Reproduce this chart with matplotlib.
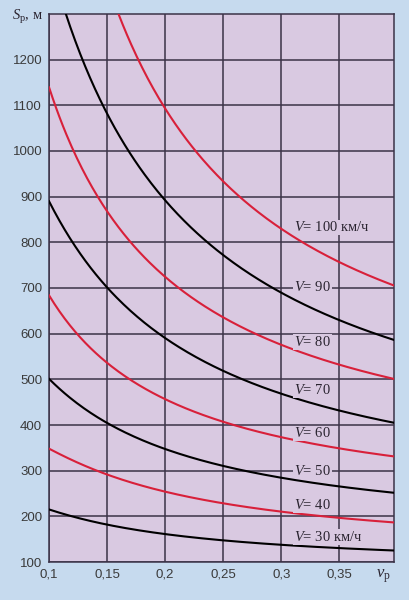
import numpy as np
import matplotlib.pyplot as plt

# coefficient of adhesion (x) and braking distance S, m (y)
nu = [0.1, 0.15, 0.2, 0.25, 0.3, 0.35, 0.397]

s30 = [215, 182, 162, 147, 136, 131, 126]
s40 = [348, 292, 255, 227, 209, 198, 187]
s50 = [500, 408, 350, 301, 284, 268, 254]
s60 = [683, 540, 455, 403, 373, 350, 333]
s70 = [890, 700, 590, 524, 464, 430, 407]
s80 = [1140, 865, 725, 640, 575, 531, 500]
s90_x = [0.114, 0.15, 0.2, 0.25, 0.3, 0.35, 0.397]
s90 = [1300, 1090, 895, 765, 678, 630, 597]
s100_x = [0.16, 0.2, 0.25, 0.3, 0.35, 0.397]
s100 = [1300, 1089, 936, 831, 757, 704]

labels = ['$V$= 30 км/ч', '$V$= 40', '$V$= 50', '$V$= 60', '$V$= 70', '$V$= 80', '$V$= 90', '$V$= 100 км/ч']
label_y = [155, 225, 300, 382, 476, 582, 702, 833]

xticks = [0.1, 0.15, 0.2, 0.25, 0.3, 0.35]
xticklabels = ['0,1', '0,15', '0,2', '0,25', '0,3', '0,35']
yticks = [100, 200, 300, 400, 500, 600, 700, 800, 900, 1000, 1100, 1200]

bg = '#c6daee'
plotbg = '#d9c9e1'
red = '#d8203a'
gridc = '#3b3247'

plt.rcParams['mathtext.fontset'] = 'custom'
plt.rcParams['mathtext.rm'] = 'Liberation Serif'
plt.rcParams['mathtext.it'] = 'Liberation Serif:italic'

fig = plt.figure(figsize=(4.09, 6.0), dpi=100, facecolor=bg)
ax = fig.add_axes([0.12, 0.0633, 0.843, 0.9134], facecolor=plotbg)

curves = [(nu, s30, 'black'), (nu, s40, red), (nu, s50, 'black'), (nu, s60, red),
          (nu, s70, 'black'), (nu, s80, red), (s90_x, s90, 'black'), (s100_x, s100, red)]
for xs, ys, c in curves:
    # smooth between read points with a quadratic in 1/x (drawing only)
    xs = np.array(xs); ys = np.array(ys)
    xf = np.linspace(xs[0], xs[-1], 200)
    p = np.polyfit(1 / xs, ys, 2)
    ax.plot(xf, np.polyval(p, 1 / xf), color=c, lw=1.5, zorder=3, clip_on=True)

for lab, y in zip(labels, label_y):
    ax.text(0.311, y, lab, fontsize=10.5, family='Liberation Serif', va='center', ha='left',
            color='#2a2430', zorder=4,
            bbox=dict(boxstyle='square,pad=0.05', fc=plotbg, ec='none'))

ax.set_xlim(0.1, 0.397)
ax.set_ylim(100, 1300)
ax.set_xticks(xticks)
ax.set_xticklabels(xticklabels)
ax.set_yticks(yticks)
ax.grid(True, color=gridc, lw=1.1, zorder=1)
ax.set_axisbelow(True)
ax.tick_params(length=0, labelsize=9.5, colors='#3a3a3a', pad=5)
for lab in ax.get_xticklabels() + ax.get_yticklabels():
    lab.set_family('Liberation Sans')
for sp in ax.spines.values():
    sp.set_color(gridc)
    sp.set_linewidth(1.1)

fig.text(43 / 409, 1 - 17 / 600, r'$S_{\mathrm{р}}$, м', fontsize=10.5, family='Liberation Serif',
         ha='right', va='center', color='#2a2430')
fig.text(383 / 409, 1 - 576 / 600, r'$\nu_{\mathrm{р}}$', fontsize=12, family='Liberation Serif',
         ha='center', va='center', color='#2a2430')

fig.savefig('out.png', dpi=100, facecolor=bg)
